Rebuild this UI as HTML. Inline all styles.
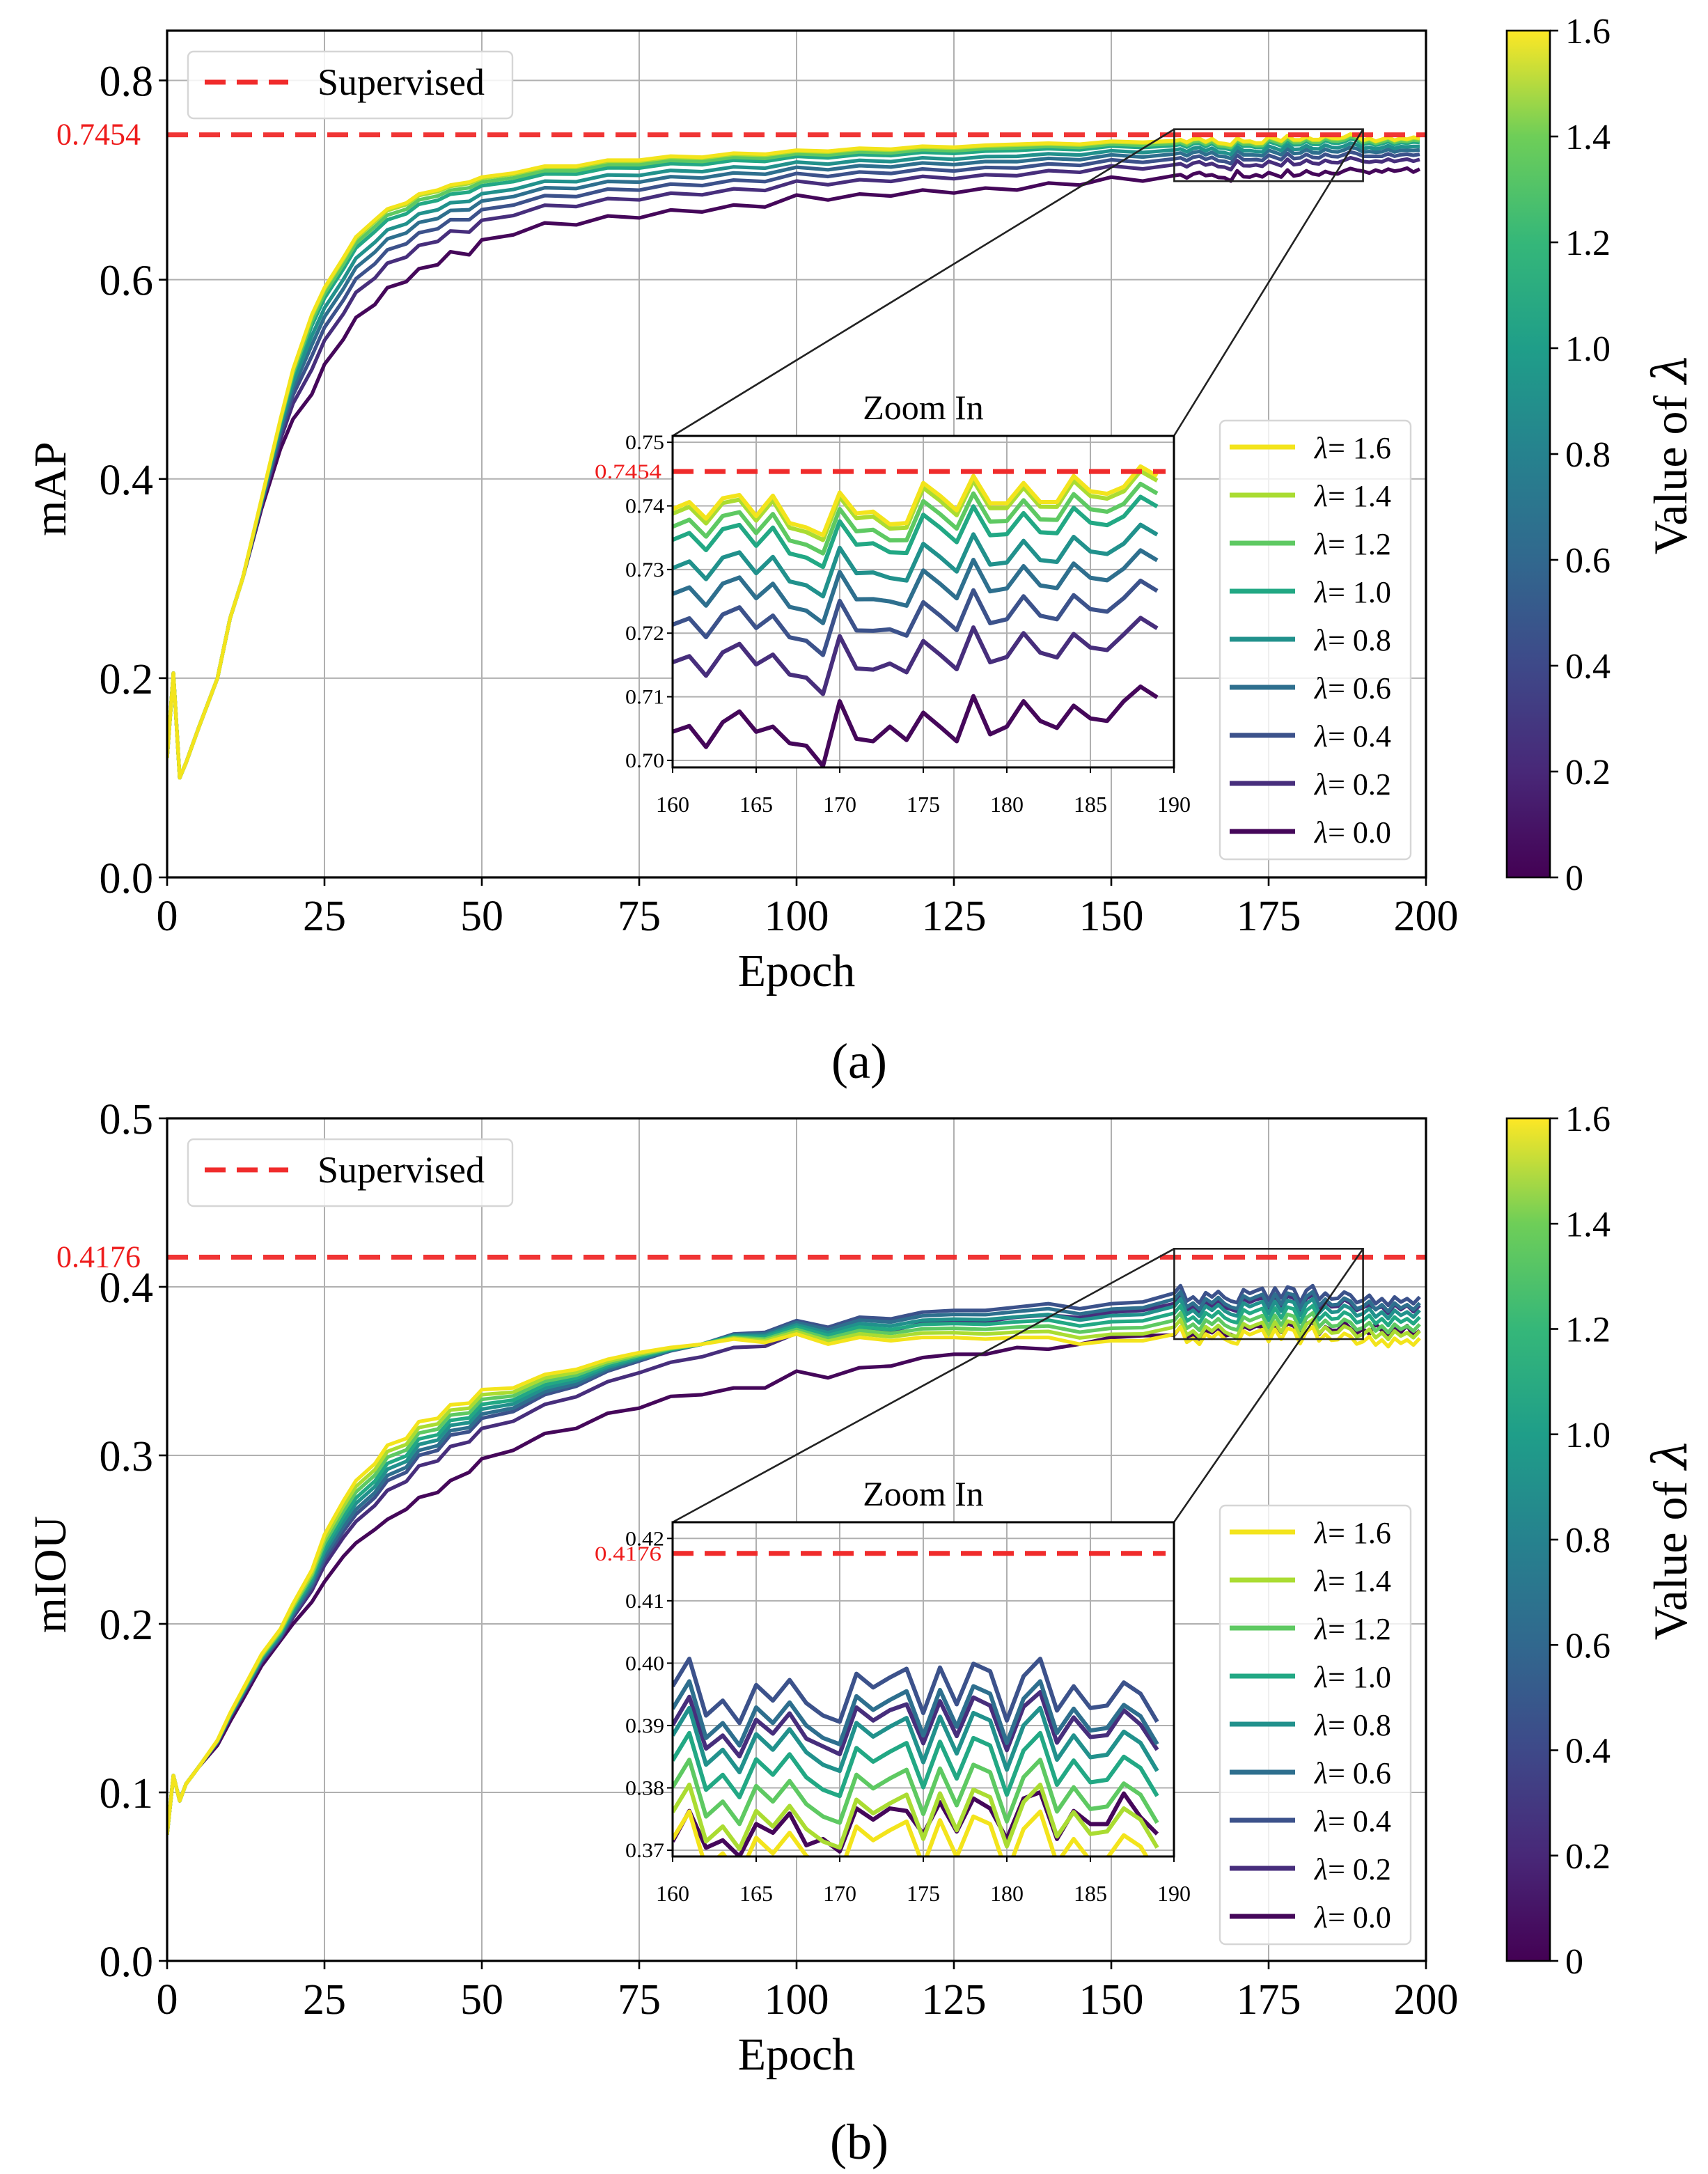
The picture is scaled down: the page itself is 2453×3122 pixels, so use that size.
<!DOCTYPE html>
<html><head><meta charset="utf-8"><style>
html,body{margin:0;padding:0;background:#fff;}
svg{display:block;font-family:"Liberation Serif",serif;}
svg text{font-family:"Liberation Serif",serif;}
</style></head><body>
<svg id="fig" font-family="Liberation Serif, serif" width="2453" height="3122" viewBox="0 0 1226.5 1561" xmlns="http://www.w3.org/2000/svg">
<defs>
<linearGradient id="vir" x1="0" y1="1" x2="0" y2="0">
<stop offset="0" stop-color="#440154"/><stop offset="0.125" stop-color="#482878"/><stop offset="0.25" stop-color="#3e4989"/><stop offset="0.375" stop-color="#31688e"/><stop offset="0.5" stop-color="#26828e"/><stop offset="0.625" stop-color="#1f9e89"/><stop offset="0.75" stop-color="#35b779"/><stop offset="0.875" stop-color="#6ece58"/><stop offset="1" stop-color="#fde725"/>
</linearGradient>
<clipPath id="clipA"><rect x="120" y="22" width="904" height="608"/></clipPath>
<clipPath id="clipB"><rect x="120" y="803" width="904" height="605"/></clipPath>
<clipPath id="clipIA"><rect x="483" y="313" width="360" height="238"/></clipPath>
<clipPath id="clipIB"><rect x="483" y="1093" width="360" height="240"/></clipPath>
</defs>
</svg>
<script>
// ---------- DATA ----------
const lambdas = [0.0,0.2,0.4,0.6,0.8,1.0,1.2,1.4,1.6];
const lambdaColors = ["#45075a","#472e7c","#3c528b","#2e6f8e","#21918c","#22a884","#5ec962","#aadc32","#f3e41c"];
const keyEpochs = [0,1,2,3,5,8,10,12,15,18,20,23,25,28,30,33,35,38,40,43,45,48,50,55,60,65,70,75,80,85,90,95,100,105,110,115,120,125,130,135,140,145,150,155];
const insetEpochs = [160,161,162,163,164,165,166,167,168,169,170,171,172,173,174,175,176,177,178,179,180,181,182,183,184,185,186,187,188,189];
const tailEpochs = [190,191,192,193,194,195,196,197,198,199];
// chart (a) mAP
const mapTopKey = [0.12,0.205,0.10,0.115,0.15,0.2,0.26,0.3,0.38,0.46,0.51,0.565,0.592,0.622,0.643,0.66,0.671,0.677,0.686,0.69,0.695,0.698,0.703,0.707,0.714,0.714,0.72,0.72,0.724,0.723,0.727,0.726,0.73,0.729,0.732,0.731,0.734,0.733,0.735,0.736,0.737,0.736,0.739,0.738];
const mapLowKey = [0.12,0.205,0.10,0.115,0.15,0.2,0.26,0.3,0.37,0.43,0.46,0.485,0.515,0.54,0.562,0.575,0.592,0.598,0.611,0.615,0.628,0.625,0.64,0.645,0.657,0.655,0.664,0.662,0.67,0.668,0.675,0.673,0.685,0.68,0.686,0.684,0.69,0.687,0.692,0.69,0.697,0.695,0.703,0.699];
const mapTopInset = [0.7395,0.7406,0.7380,0.7412,0.7417,0.7384,0.7416,0.7373,0.7366,0.7354,0.7421,0.7388,0.7391,0.7371,0.7373,0.7436,0.7416,0.7393,0.7447,0.7404,0.7404,0.7436,0.7406,0.7406,0.7447,0.7423,0.7419,0.7430,0.7462,0.7447];
const mapLowInset = [0.7045,0.7054,0.7021,0.7060,0.7077,0.7045,0.7053,0.7027,0.7023,0.6991,0.7093,0.7034,0.7030,0.7053,0.7032,0.7075,0.7053,0.7030,0.7101,0.7041,0.7053,0.7093,0.7062,0.7051,0.7086,0.7066,0.7062,0.7093,0.7116,0.7099];
const mapTopTail = [0.74,0.742,0.739,0.741,0.743,0.74,0.742,0.741,0.743,0.742];
const mapLowTail = [0.709,0.707,0.71,0.708,0.711,0.709,0.71,0.712,0.708,0.711];
const mapFrac = [0,0.312,0.481,0.619,0.735,0.862,0.921,0.979,1];
const mapSupervised = 0.7454;
// chart (b) mIOU
const iouBaseKey = [0.075,0.11,0.095,0.105,0.115,0.13,0.145,0.158,0.178,0.192,0.205,0.222,0.238,0.255,0.265,0.275,0.285,0.29,0.3,0.303,0.312,0.314,0.322,0.326,0.336,0.341,0.35,0.356,0.362,0.366,0.372,0.373,0.38,0.376,0.382,0.381,0.385,0.386,0.386,0.388,0.39,0.387,0.39,0.391];
const iouSpreadKey = [0,0,0,0,0,0.001,0.002,0.003,0.004,0.005,0.007,0.01,0.015,0.018,0.02,0.02,0.021,0.02,0.02,0.019,0.018,0.017,0.017,0.014,0.012,0.01,0.007,0.005,0.002,0,-0.003,-0.006,-0.008,-0.01,-0.012,-0.013,-0.015,-0.016,-0.017,-0.018,-0.02,-0.021,-0.022,-0.023];
const iouLam0Key = [0.075,0.11,0.095,0.105,0.115,0.128,0.142,0.155,0.175,0.19,0.2,0.213,0.225,0.24,0.248,0.256,0.262,0.268,0.275,0.278,0.285,0.29,0.298,0.303,0.313,0.316,0.325,0.328,0.335,0.336,0.34,0.34,0.35,0.346,0.352,0.353,0.358,0.36,0.36,0.364,0.363,0.366,0.37,0.371];
const iouBaseInset = [0.3963,0.4007,0.3916,0.3940,0.3904,0.3965,0.3940,0.3973,0.3936,0.3916,0.3906,0.3983,0.3961,0.3977,0.3991,0.3920,0.3993,0.3934,0.3999,0.3987,0.3908,0.3979,0.4007,0.3924,0.3963,0.3928,0.3932,0.3969,0.3951,0.3906];
const iouLam0Inset = [0.3714,0.3763,0.3704,0.3716,0.3690,0.3742,0.3728,0.3759,0.3708,0.3718,0.3698,0.3767,0.3749,0.3767,0.3763,0.3726,0.3777,0.3730,0.3783,0.3767,0.3718,0.3783,0.3793,0.3718,0.3763,0.3742,0.3742,0.3791,0.3753,0.3726];
const iouBaseTail = [0.392,0.395,0.39,0.393,0.389,0.394,0.391,0.393,0.39,0.394];
const iouLam0Tail = [0.375,0.372,0.378,0.374,0.37,0.376,0.373,0.377,0.371,0.374];
const iouLateSpread = -0.0245;
const iouFrac = [0,0,0,0.147,0.322,0.486,0.661,0.824,1];
const iouToLam0 = [1,0.25,0,0,0,0,0,0,0];
const iouSupervised = 0.4176;
const xTicks = [0,25,50,75,100,125,150,175,200];
const insetXTicks = [160,165,170,175,180,185,190];
const mapYTicks = [0.0,0.2,0.4,0.6,0.8];
const iouYTicks = [0.0,0.1,0.2,0.3,0.4,0.5];
const mapInsetYTicks = [0.70,0.71,0.72,0.73,0.74,0.75];
const iouInsetYTicks = [0.37,0.38,0.39,0.40,0.41,0.42];
const cbarTicks = [0,0.2,0.4,0.6,0.8,1.0,1.2,1.4,1.6];

// ---------- DRAWING ----------
const NS="http://www.w3.org/2000/svg";
const svg=document.getElementById('fig');
function mk(tag,attrs,parent){const e=document.createElementNS(NS,tag);for(const k in attrs)e.setAttribute(k,attrs[k]);(parent||svg).appendChild(e);return e;}
function txt(s,attrs,parent){const e=mk('text',attrs,parent);e.setAttribute('font-family','Liberation Serif, serif');e.textContent=s;return e;}

function buildMap(){
  const ep=keyEpochs.concat(insetEpochs,tailEpochs);
  const top=mapTopKey.concat(mapTopInset,mapTopTail), low=mapLowKey.concat(mapLowInset,mapLowTail);
  return lambdas.map((l,i)=>({ep:ep,v:ep.map((e,j)=>low[j]+mapFrac[i]*(top[j]-low[j]))}));
}
function buildMapInset(){
  return lambdas.map((l,i)=>({ep:insetEpochs,v:insetEpochs.map((e,j)=>mapLowInset[j]+mapFrac[i]*(mapTopInset[j]-mapLowInset[j]))}));
}
function buildIou(){
  const ep=keyEpochs.concat(insetEpochs,tailEpochs);
  const base=iouBaseKey.concat(iouBaseInset,iouBaseTail);
  const lam0=iouLam0Key.concat(iouLam0Inset,iouLam0Tail);
  const spread=iouSpreadKey.concat(insetEpochs.map(()=>iouLateSpread),tailEpochs.map(()=>iouLateSpread));
  return lambdas.map((l,i)=>({ep:ep,v:ep.map((e,j)=>{const b=base[j]+iouFrac[i]*spread[j];return b+iouToLam0[i]*(lam0[j]-b);})}));
}
function buildIouInset(){
  return lambdas.map((l,i)=>({ep:insetEpochs,v:insetEpochs.map((e,j)=>{const b=iouBaseInset[j]+iouFrac[i]*iouLateSpread;return b+iouToLam0[i]*(iouLam0Inset[j]-b);})}));
}

function drawPanel(P){
  const g=mk('g',{});
  
  
  const X=e=>P.x0+(e-0)*(P.x1-P.x0)/200;
  const Y=v=>P.yb-(v-P.ymin)*(P.yb-P.yt)/(P.ymax-P.ymin);
  xTicks.forEach(t=>{const l=mk('line',{x1:X(t),x2:X(t),y1:P.yt,y2:P.yb,stroke:'#b0b0b0','stroke-width':1},g);});
  P.yTicks.forEach(t=>{const l=mk('line',{x1:P.x0,x2:P.x1,y1:Y(t),y2:Y(t),stroke:'#b0b0b0','stroke-width':1},g);});
  const sg=mk('g',{'clip-path':'url(#'+P.clip+')'},g);
  P.series.forEach((s,i)=>{
    const p=mk('polyline',{points:s.ep.map((e,j)=>X(e).toFixed(2)+','+Y(s.v[j]).toFixed(2)).join(' '),fill:'none',stroke:lambdaColors[i],'stroke-width':2.6,'stroke-linejoin':'round'},sg);
    
    
  });
  const sl=mk('line',{x1:P.x0,x2:P.x1,y1:Y(P.sup),y2:Y(P.sup),stroke:'#f02b2b','stroke-width':3.5,'stroke-dasharray':'15 8','opacity':0.95},g);
  
  const st=txt(P.sup.toFixed(4),{x:P.supLabelX,y:Y(P.sup)+7,'text-anchor':'end','font-size':22,fill:'#ee1c1c'},g);
  
  const fr=mk('rect',{x:P.x0,y:P.yt,width:P.x1-P.x0,height:P.yb-P.yt,fill:'none',stroke:'#000','stroke-width':1.6},g);
  
  xTicks.forEach(t=>{mk('line',{x1:X(t),x2:X(t),y1:P.yb,y2:P.yb+6,stroke:'#000','stroke-width':1.3},g);
    const tl=txt(String(t),{x:X(t),y:P.yb+38,'text-anchor':'middle','font-size':31},g);});
  P.yTicks.forEach(t=>{mk('line',{x1:P.x0-6,x2:P.x0,y1:Y(t),y2:Y(t),stroke:'#000','stroke-width':1.3},g);
    const tl=txt(t.toFixed(1),{x:P.x0-10,y:Y(t)+11,'text-anchor':'end','font-size':31},g);});
  const xl=txt('Epoch',{x:(P.x0+P.x1)/2,y:P.yb+78,'text-anchor':'middle','font-size':33},g);
  
  const yl=txt(P.ylabel,{x:0,y:0,'text-anchor':'middle','font-size':33,transform:'translate(47,'+((P.yt+P.yb)/2+25)+') rotate(-90)'},g);
  
  const lg=mk('g',{},g);
  mk('rect',{x:135,y:P.yt+15,width:233,height:48,rx:4,fill:'#fff','fill-opacity':0.85,stroke:'#d6d6d6','stroke-width':1.2},lg);
  mk('line',{x1:147,x2:207,y1:P.yt+37,y2:P.yt+37,stroke:'#f02b2b','stroke-width':3.5,'stroke-dasharray':'15 8'},lg);
  txt('Supervised',{x:228,y:P.yt+46,'font-size':27},lg);
  const rx0=X(160),rx1=X(190),ry0=Y(P.in.ymax),ry1=Y(P.in.ymin);
  const zr=mk('rect',{x:rx0,y:ry0,width:rx1-rx0,height:ry1-ry0,fill:'none',stroke:'#222','stroke-width':1.3},g);
  
  const I=P.in;
  const c1=mk('line',{x1:I.x0,y1:I.yt,x2:rx0,y2:ry0,stroke:'#222','stroke-width':1.3},g);
  
  const c2=mk('line',{x1:I.x1,y1:I.yt,x2:rx1,y2:ry0,stroke:'#222','stroke-width':1.3},g);
  
  drawInset(P,g);
  const lgl=mk('g',{},g);
  mk('rect',{x:876,y:P.legY,width:137,height:315,rx:4,fill:'#fff','fill-opacity':0.8,stroke:'#d6d6d6','stroke-width':1.2},lgl);
  for(let k=0;k<9;k++){const i=8-k;const yy=P.legY+19+k*34.5;
    const en=mk('g',{},lgl);
    mk('line',{x1:883,x2:930,y1:yy,y2:yy,stroke:lambdaColors[i],'stroke-width':3.5},en);
    const t=txt('',{x:944,y:yy+8,'font-size':22},en);
    const ts=mk('tspan',{'font-style':'italic'},t);ts.textContent='λ';
    const t2=mk('tspan',{},t);t2.textContent='= '+lambdas[i].toFixed(1);}
  const cb=mk('g',{},g);
  mk('rect',{x:1082,y:P.yt,width:31,height:P.yb-P.yt,fill:'url(#vir)',stroke:'#000','stroke-width':1.3},cb);
  cbarTicks.forEach(t=>{const yy=P.yb-(t/1.6)*(P.yb-P.yt);mk('line',{x1:1113,x2:1119,y1:yy,y2:yy,stroke:'#000','stroke-width':1.3},cb);
    const tl=txt(t===0?'0':t.toFixed(1),{x:1124,y:yy+9,'font-size':26},cb);});
  const ct=txt('',{x:0,y:0,'text-anchor':'middle','font-size':34,transform:'translate(1211,'+((P.yt+P.yb)/2)+') rotate(-90)'},cb);
  
  const s1=mk('tspan',{},ct);s1.textContent='Value of ';const s2=mk('tspan',{'font-style':'italic','font-family':'DejaVu Serif, serif'},ct);s2.textContent='λ';
  const cap=txt(P.caption,{x:617,y:P.capY,'text-anchor':'middle','font-size':36},g);
  
}

function drawInset(P,parent){
  const I=P.in;
  const g=mk('g',{},parent);
  const X=e=>I.x0+(e-160)*(I.x1-I.x0)/30;
  const Y=v=>I.yb-(v-I.ymin)*(I.yb-I.yt)/(I.ymax-I.ymin);
  mk('rect',{x:I.x0,y:I.yt,width:I.x1-I.x0,height:I.yb-I.yt,fill:'#fff'},g);
  insetXTicks.forEach(t=>mk('line',{x1:X(t),x2:X(t),y1:I.yt,y2:I.yb,stroke:'#b0b0b0','stroke-width':1},g));
  I.yTicks.forEach(t=>mk('line',{x1:I.x0,x2:I.x1,y1:Y(t),y2:Y(t),stroke:'#b0b0b0','stroke-width':1},g));
  const sg=mk('g',{'clip-path':'url(#'+I.clip+')'},g);
  I.series.forEach((s,i)=>{const p=mk('polyline',{points:s.ep.map((e,j)=>X(e).toFixed(2)+','+Y(s.v[j]).toFixed(2)).join(' '),fill:'none',stroke:lambdaColors[i],'stroke-width':3,'stroke-linejoin':'round'},sg);
    });
  const sl=mk('line',{x1:I.x0,x2:I.x1-6,y1:Y(P.sup),y2:Y(P.sup),stroke:'#f02b2b','stroke-width':3.5,'stroke-dasharray':'15 8'},g);
  
  mk('rect',{x:I.x0,y:I.yt,width:I.x1-I.x0,height:I.yb-I.yt,fill:'none',stroke:'#000','stroke-width':1.5},g);
  insetXTicks.forEach(t=>{mk('line',{x1:X(t),x2:X(t),y1:I.yb,y2:I.yb+4,stroke:'#000'},g);
    txt(String(t),{x:X(t),y:I.yb+32,'text-anchor':'middle','font-size':16},g);});
  I.yTicks.forEach(t=>{mk('line',{x1:I.x0-4,x2:I.x0,y1:Y(t),y2:Y(t),stroke:'#000'},g);
    txt(t.toFixed(2),{x:I.x0-6,y:Y(t)+5,'text-anchor':'end','font-size':15,'textLength':28,'lengthAdjust':'spacingAndGlyphs'},g);});
  txt(P.sup.toFixed(4),{x:I.x0-8,y:Y(P.sup)+5,'text-anchor':'end','font-size':15,fill:'#ee1c1c','textLength':48,'lengthAdjust':'spacingAndGlyphs'},g);
  const zt=txt('Zoom In',{x:(I.x0+I.x1)/2,y:I.yt-12,'text-anchor':'middle','font-size':25},g);
  
}

drawPanel({name:'map',x0:120,x1:1024,yt:22,yb:630,ymin:0,ymax:0.85,yTicks:mapYTicks,ylabel:'mAP',sup:mapSupervised,supLabelX:101,
  clip:'clipA',series:buildMap(),legY:302,caption:'(a)',capY:774,
  in:{x0:483,x1:843,yt:313,yb:551,ymin:0.6989,ymax:0.751,yTicks:mapInsetYTicks,clip:'clipIA',series:buildMapInset()}});
drawPanel({name:'miou',x0:120,x1:1024,yt:803,yb:1408,ymin:0,ymax:0.5,yTicks:iouYTicks,ylabel:'mIOU',sup:iouSupervised,supLabelX:101,
  clip:'clipB',series:buildIou(),legY:1081,caption:'(b)',capY:1550,
  in:{x0:483,x1:843,yt:1093,yb:1333,ymin:0.369,ymax:0.4226,yTicks:iouInsetYTicks,clip:'clipIB',series:buildIouInset()}});
</script>
</body></html>
